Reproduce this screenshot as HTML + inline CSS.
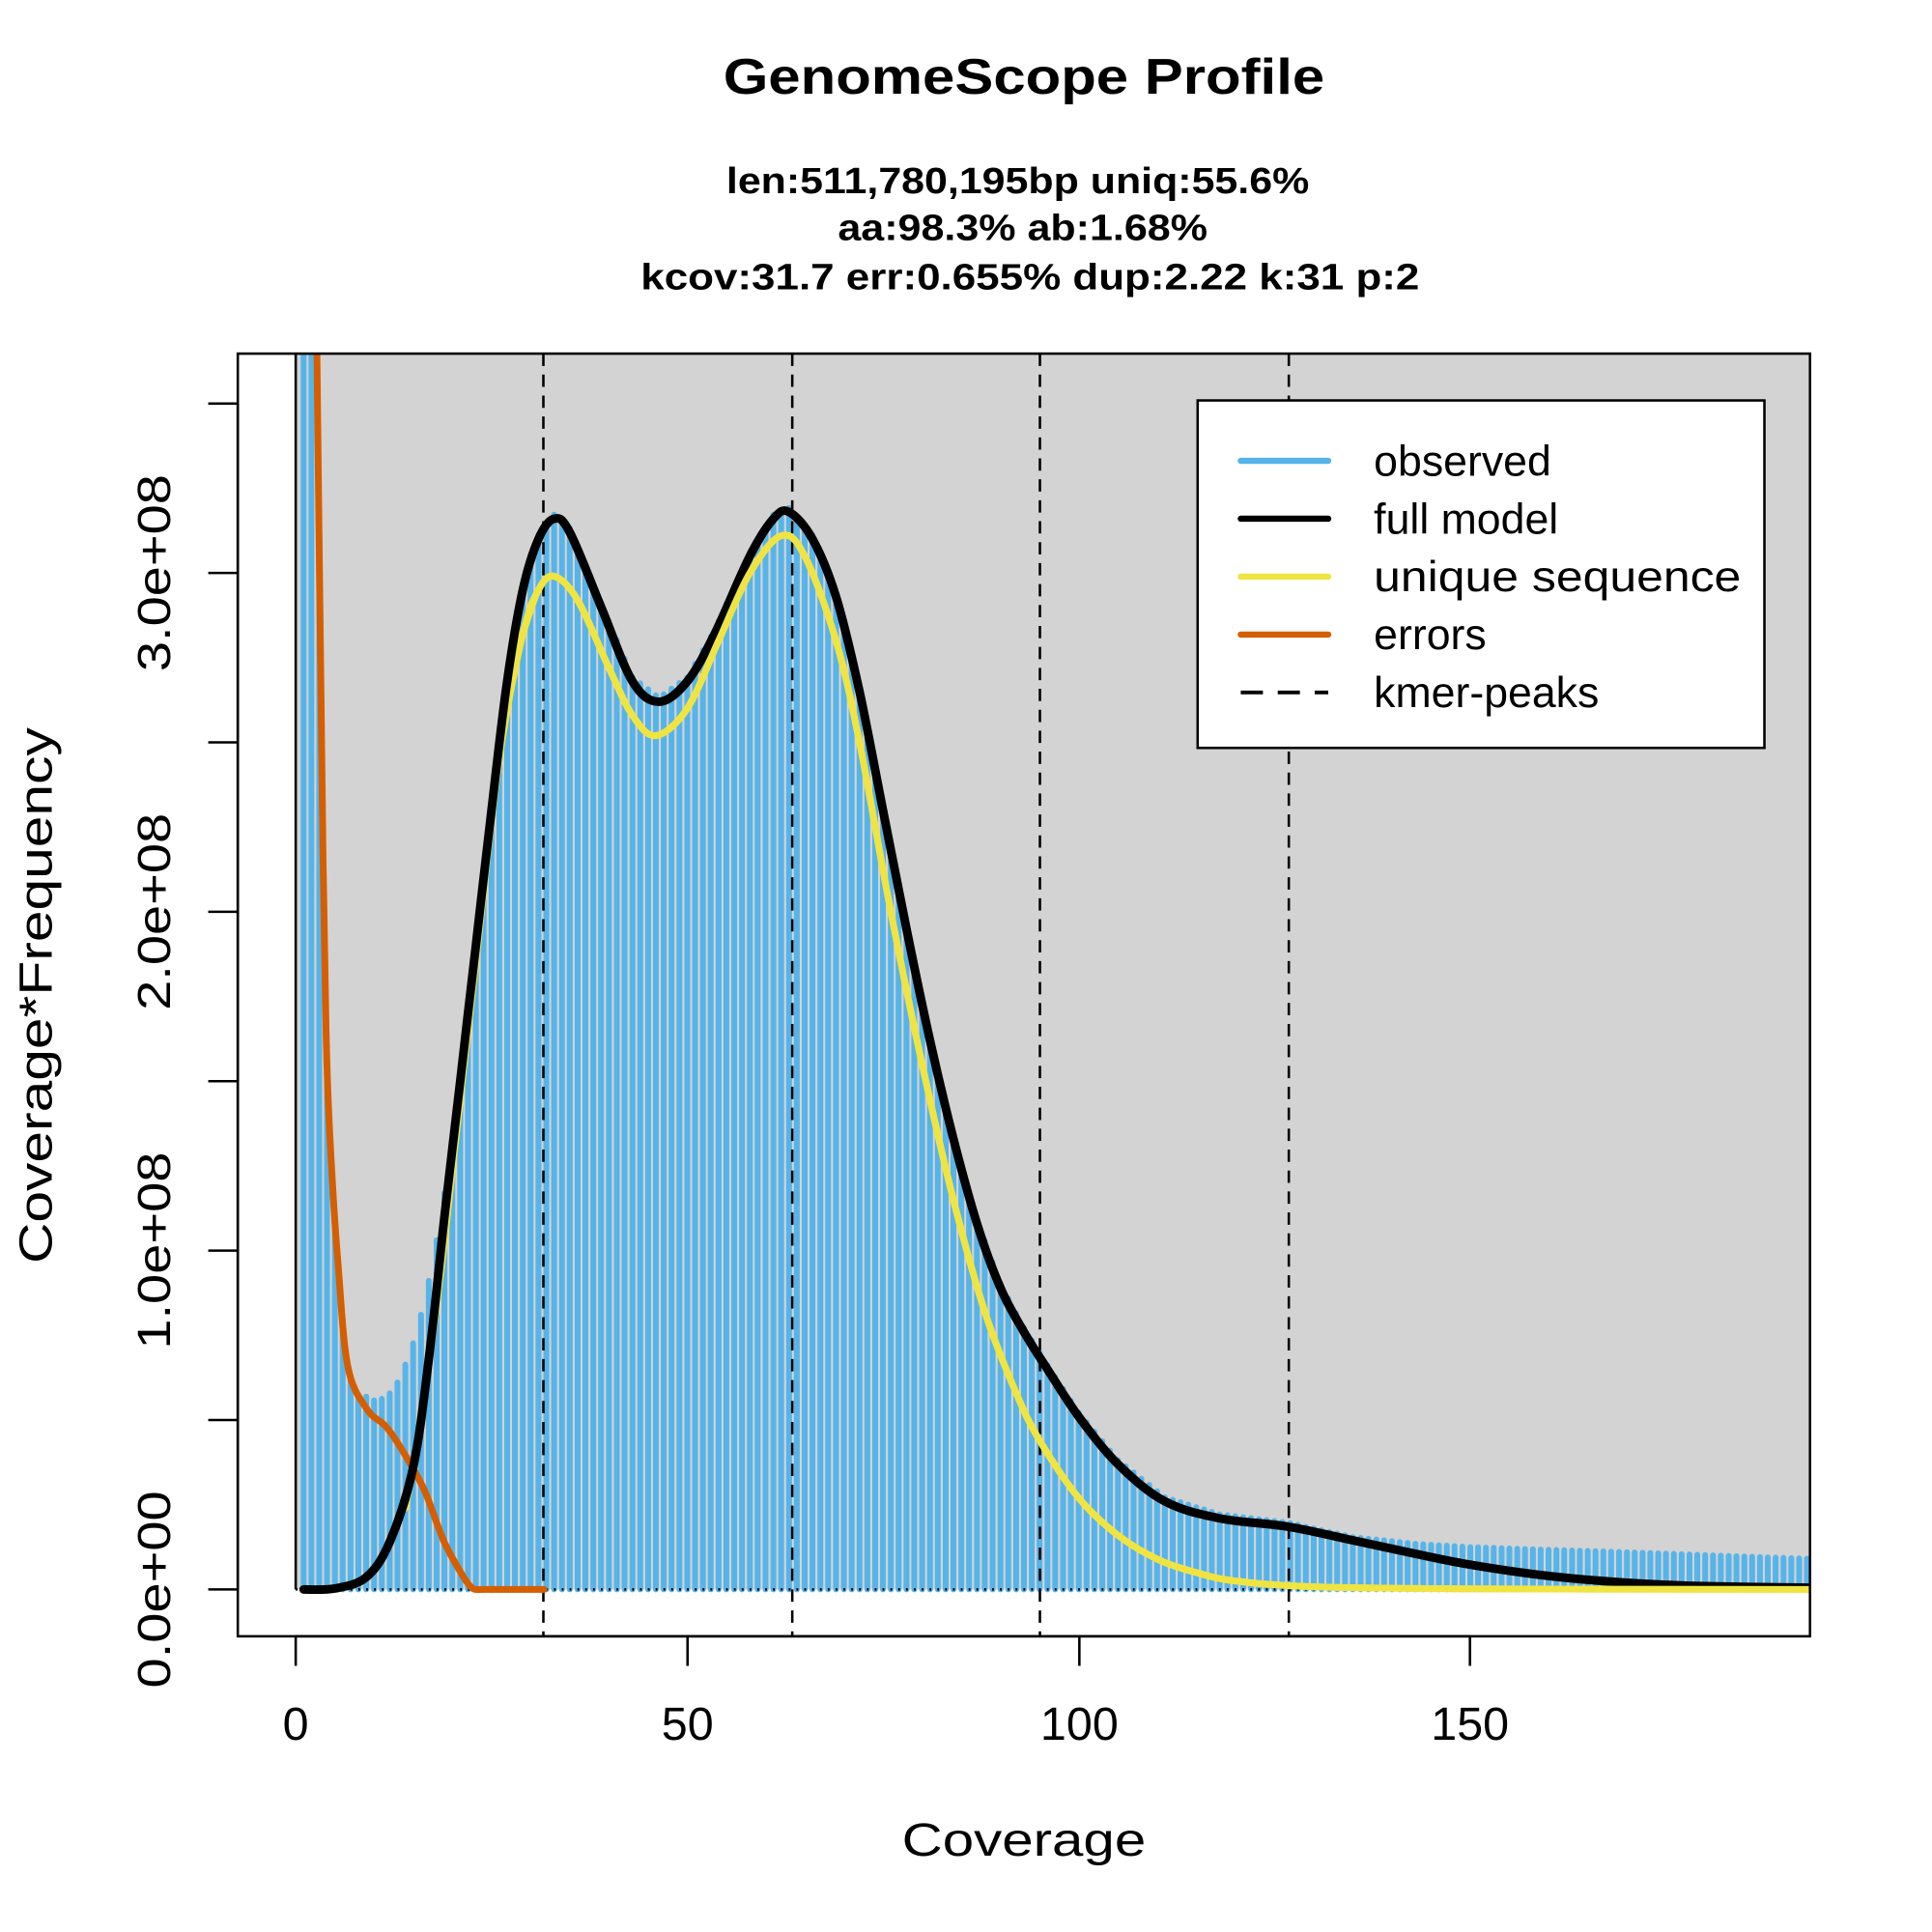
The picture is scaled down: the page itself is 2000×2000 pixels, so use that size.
<!DOCTYPE html>
<html><head><meta charset="utf-8"><style>html,body{margin:0;padding:0;background:#fff}svg{display:block}text{font-family:"Liberation Sans",Arial,sans-serif}</style></head>
<body>
<svg id="s" xmlns="http://www.w3.org/2000/svg" width="2000" height="2000" viewBox="0 0 1568 1568">
<defs><clipPath id="c"><rect x="193" y="287" width="1276" height="1041"/></clipPath></defs>
<rect width="1568" height="1568" fill="#fff"/>
<rect x="240" y="287" width="1229" height="1003" fill="#D3D3D3"/>
<g id="bars" clip-path="url(#c)"></g>
<line x1="240" y1="1290" x2="1469" y2="1290" stroke="#000" stroke-width="2" stroke-dasharray="1.5,4.85"/>
<line x1="240" y1="287" x2="240" y2="1290" stroke="#000" stroke-width="2"/>
<g stroke="#000" stroke-width="2" stroke-dasharray="10,7" clip-path="url(#c)">
<line x1="441" y1="287" x2="441" y2="1328"/><line x1="643" y1="287" x2="643" y2="1328"/>
<line x1="844" y1="287" x2="844" y2="1328"/><line x1="1046" y1="287" x2="1046" y2="1328"/>
</g>
<g id="curves" clip-path="url(#c)" fill="none" stroke-linecap="round" stroke-linejoin="round"></g>
<rect x="193" y="287" width="1276" height="1041" fill="none" stroke="#000" stroke-width="2"/>
<rect x="972" y="325" width="460" height="282" fill="#fff" stroke="#000" stroke-width="2"/>
<g stroke-width="5" stroke-linecap="round">
<line x1="1007" y1="374" x2="1078" y2="374" stroke="#56B4E9"/>
<line x1="1007" y1="421" x2="1078" y2="421" stroke="#000"/>
<line x1="1007" y1="468" x2="1078" y2="468" stroke="#F0E442"/>
<line x1="1007" y1="515" x2="1078" y2="515" stroke="#D55E00"/>
<line x1="1007" y1="562" x2="1078" y2="562" stroke="#000" stroke-width="3" stroke-dasharray="18,12" stroke-linecap="butt"/>
</g>
<g font-size="35" fill="#000">
<text x="1115" y="386">observed</text>
<text x="1115" y="433">full model</text>
<text x="1115" y="480" textLength="298" lengthAdjust="spacingAndGlyphs">unique sequence</text>
<text x="1115" y="527">errors</text>
<text x="1115" y="574">kmer-peaks</text>
</g>
<g stroke="#000" stroke-width="2">
<line x1="240" y1="1328" x2="1193" y2="1328"/>
<line x1="240" y1="1328" x2="240" y2="1352"/><line x1="558" y1="1328" x2="558" y2="1352"/>
<line x1="876" y1="1328" x2="876" y2="1352"/><line x1="1193" y1="1328" x2="1193" y2="1352"/>
<line x1="193" y1="327.5" x2="193" y2="1290"/>
<line x1="169" y1="1290" x2="193" y2="1290"/><line x1="169" y1="1152.5" x2="193" y2="1152.5"/>
<line x1="169" y1="1015" x2="193" y2="1015"/><line x1="169" y1="877.5" x2="193" y2="877.5"/>
<line x1="169" y1="740" x2="193" y2="740"/><line x1="169" y1="602.5" x2="193" y2="602.5"/>
<line x1="169" y1="465" x2="193" y2="465"/><line x1="169" y1="327.5" x2="193" y2="327.5"/>
</g>
<g font-size="38" text-anchor="middle" fill="#000">
<text x="240" y="1412">0</text><text x="558" y="1412">50</text>
<text x="876" y="1412">100</text><text x="1193" y="1412">150</text>
<text x="831" y="1506" textLength="198" lengthAdjust="spacingAndGlyphs">Coverage</text>
<text transform="translate(138,1290) rotate(-90)" textLength="160" lengthAdjust="spacingAndGlyphs">0.0e+00</text>
<text transform="translate(138,1015) rotate(-90)" textLength="160" lengthAdjust="spacingAndGlyphs">1.0e+08</text>
<text transform="translate(138,740) rotate(-90)" textLength="160" lengthAdjust="spacingAndGlyphs">2.0e+08</text>
<text transform="translate(138,465) rotate(-90)" textLength="160" lengthAdjust="spacingAndGlyphs">3.0e+08</text>
<text transform="translate(42,808) rotate(-90)" textLength="435" lengthAdjust="spacingAndGlyphs">Coverage*Frequency</text>
</g>
<g font-weight="bold" text-anchor="middle" fill="#000">
<text x="831" y="76" font-size="41" textLength="488" lengthAdjust="spacingAndGlyphs">GenomeScope Profile</text>
<text x="826" y="157" font-size="30" textLength="473" lengthAdjust="spacingAndGlyphs">len:511,780,195bp uniq:55.6%</text>
<text x="830" y="195" font-size="30" textLength="300" lengthAdjust="spacingAndGlyphs">aa:98.3% ab:1.68%</text>
<text x="836" y="235" font-size="30" textLength="632" lengthAdjust="spacingAndGlyphs">kcov:31.7 err:0.655%  dup:2.22  k:31 p:2</text>
</g>
</svg>
<script>
(function(){
function X(c){return 240+6.355*c;}
function Y(v){return 1290-275*v;}
function interp(p,x){if(x<=p[0][0])return p[0][1];for(var i=1;i<p.length;i++){if(x<=p[i][0]){var a=p[i-1],b=p[i];return a[1]+(b[1]-a[1])*(x-a[0])/(b[0]-a[0]);}}return p[p.length-1][1];}
function cr(p){var pts=p.map(function(q){return [X(q[0]),Y(q[1])];});var d="M"+pts[0][0].toFixed(1)+","+pts[0][1].toFixed(1);
for(var i=0;i<pts.length-1;i++){var p0=pts[i>0?i-1:i],p1=pts[i],p2=pts[i+1],p3=pts[i+2<pts.length?i+2:i+1];
var c1=[p1[0]+(p2[0]-p0[0])/6,p1[1]+(p2[1]-p0[1])/6],c2=[p2[0]-(p3[0]-p1[0])/6,p2[1]-(p3[1]-p1[1])/6];
d+="C"+c1[0].toFixed(1)+","+c1[1].toFixed(1)+" "+c2[0].toFixed(1)+","+c2[1].toFixed(1)+" "+p2[0].toFixed(1)+","+p2[1].toFixed(1);}return d;}
var black=[[1,0],[5,0.003],[9,0.036],[12,0.14],[15,0.36],[17,0.68],[19,1.1],[21,1.5],[23,1.9],[25,2.3],[27,2.68],[29,2.95],[31,3.1],[33,3.16],[35,3.12],[39,2.9],[43,2.68],[46.4,2.62],[50,2.68],[53.5,2.82],[58,3.05],[61,3.16],[63,3.18],[66,3.1],[69,2.93],[72,2.65],[75,2.3],[78,1.95],[81,1.62],[84,1.33],[87,1.08],[90,0.89],[93,0.76],[96,0.65],[100,0.51],[105,0.37],[111,0.26],[118,0.21],[126.8,0.185],[135,0.145],[143,0.105],[150,0.073],[160,0.04],[170,0.02],[180,0.01],[193.4,0.005]];
var yellow=[[14,0.24],[16,0.5],[18.6,0.95],[20.2,1.28],[23,1.85],[26,2.45],[29,2.82],[31,2.95],[33,2.99],[36,2.92],[40,2.72],[43,2.58],[46,2.52],[50,2.6],[54,2.8],[58,3.0],[62,3.11],[65,3.05],[69,2.8],[72,2.5],[76,2.0],[80,1.55],[84,1.15],[88,0.82],[92,0.58],[95,0.44],[100,0.27],[105,0.16],[110,0.09],[115,0.05],[120,0.025],[130,0.008],[150,0.002],[193.4,0]];
var orange=[[2,5],[2.7,3.65],[3.5,2.15],[3.98,1.555],[4.6,1.238],[5.4,0.964],[6.65,0.658],[9.1,0.532],[11.6,0.479],[14.05,0.394],[16.5,0.289],[18.95,0.141],[21.45,0.036],[22.5,0.005],[23.1,0],[24,0],[27,0],[31.7,0]];
var tail=[[128,0.19],[135,0.155],[143,0.135],[150,0.125],[170,0.11],[194,0.09]];
var mid=[0.569,0.558,0.563,0.579,0.611,0.664,0.727,0.811,0.911,1.031,1.170,1.325];
var g=document.getElementById("bars"),h="";
for(var i=1;i<=194;i++){var v;if(i<=2)v=10;else if(i<=8)v=interp(orange,i)-0.02;else if(i<=20)v=mid[i-9];else if(i<=128)v=interp(black,i)+0.012;else v=interp(tail,i);
h+='<line x1="'+X(i).toFixed(1)+'" y1="1290" x2="'+X(i).toFixed(1)+'" y2="'+Y(v).toFixed(1)+'" stroke="#56B4E9" stroke-width="4.7" stroke-linecap="round"/>';}
g.innerHTML=h;
document.getElementById("curves").innerHTML='<path d="'+cr(orange)+'" stroke="#D55E00" stroke-width="5.5"/>'+
'<path d="'+cr(yellow)+'" stroke="#F0E442" stroke-width="5.5"/>'+
'<path d="'+cr(black)+'" stroke="#000" stroke-width="7"/>'+
'<path d="'+cr(yellow.slice(6))+'" stroke="#F0E442" stroke-width="5.5"/>';
})();
</script>
</body></html>
